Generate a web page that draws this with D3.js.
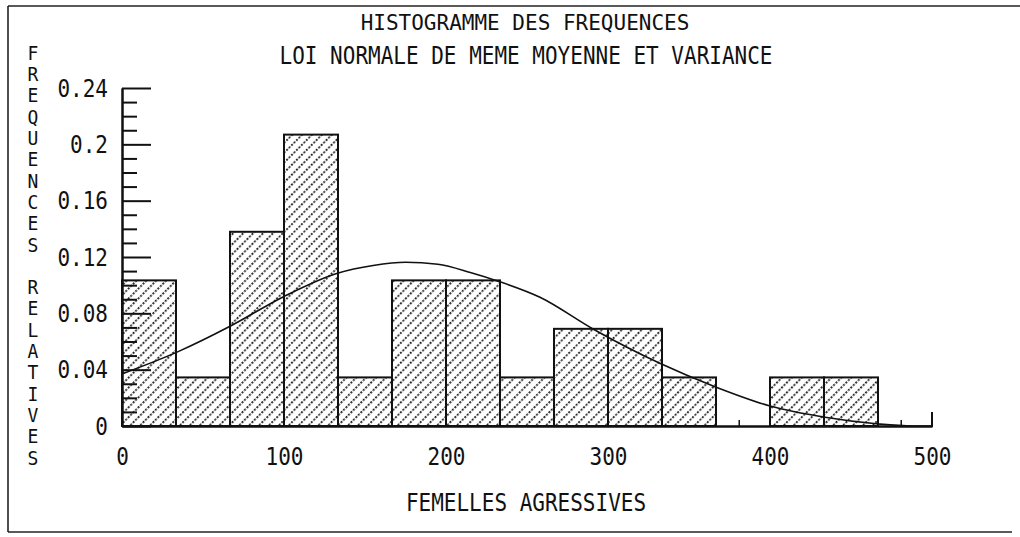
<!DOCTYPE html>
<html><head><meta charset="utf-8">
<script src="https://cdn.jsdelivr.net/npm/d3@7"></script>
<style>
body{margin:0;background:#fff}
svg{display:block}
text{font-family:"DejaVu Sans Mono",monospace;fill:#111}
</style>
</head><body>
<script>
// Histogram bins (class edges) and relative frequencies
const binEdges = [0, 33.33, 66.67, 100, 133.33, 166.67, 200, 233.33, 266.67, 300, 333.33, 366.67, 400, 433.33, 466.67];
const freqs = [0.1034, 0.0345, 0.1379, 0.2069, 0.0345, 0.1034, 0.1034, 0.0345, 0.069, 0.069, 0.0345, 0, 0.0345, 0.0345];

// Normal curve with the same mean and variance (sampled points)
const curveX = [0, 35, 67, 100, 133, 155, 175, 195, 215, 233, 258, 291, 332, 366, 400, 434, 467, 488, 500];
const curveY = [0.037, 0.053, 0.071, 0.092, 0.1085, 0.114, 0.1163, 0.1148, 0.109, 0.1025, 0.0914, 0.0687, 0.0445, 0.0279, 0.0142, 0.0062, 0.0014, 0, 0];

// Axis ticks
const yMajorTicks = [0, 0.04, 0.08, 0.12, 0.16, 0.2, 0.24];
const yMinorTicks = [0.01, 0.02, 0.03, 0.05, 0.06, 0.07, 0.09, 0.10, 0.11, 0.13, 0.14, 0.15, 0.17, 0.18, 0.19, 0.21, 0.22, 0.23];
const xTicks = [0, 100, 200, 300, 400, 500];
const xMinorTicks = [81, 181, 281, 381, 481];

// Texts
const titleLines = ["HISTOGRAMME DES FREQUENCES", "LOI NORMALE DE MEME MOYENNE ET VARIANCE"];
const xTitle = "FEMELLES AGRESSIVES";
const yTitle = "FREQUENCES RELATIVES";

const W = 1020, H = 537;
const svg = d3.select("body").append("svg").attr("width", W).attr("height", H);

const x = d3.scaleLinear().domain([0, 500]).range([122, 932]);
const y = d3.scaleLinear().domain([0, 0.24]).range([426, 88]);

// hatch pattern: dotted diagonal lines
const defs = svg.append("defs");
const pat = defs.append("pattern").attr("id", "hatch")
  .attr("patternUnits", "userSpaceOnUse").attr("width", 7).attr("height", 7)
  .attr("patternTransform", "rotate(45)");
pat.append("rect").attr("width", 7).attr("height", 7).attr("fill", "#fff");
pat.append("line").attr("x1", 0.9).attr("y1", 0).attr("x2", 0.9).attr("y2", 7)
  .attr("stroke", "#111").attr("stroke-width", 1.7).attr("stroke-dasharray", "2 1.5");

// frame
const frame = svg.append("g").attr("stroke", "#222").attr("stroke-width", 1.6).attr("fill", "none");
frame.append("line").attr("x1", 8).attr("y1", 6).attr("x2", W).attr("y2", 6);
frame.append("line").attr("x1", 8).attr("y1", 6).attr("x2", 8).attr("y2", 532);
frame.append("line").attr("x1", 8).attr("y1", 532).attr("x2", 1012).attr("y2", 532);

// text helper: vertically stretched glyphs centred on (cx, cy)
function tallText(g, cx, cy, str, size, sy, anchor) {
  return g.append("text")
    .attr("transform", `translate(${cx},${cy}) scale(1,${sy})`)
    .attr("text-anchor", anchor || "middle")
    .attr("dy", "0.36em")
    .style("font-size", size + "px")
    .text(str);
}

// titles
tallText(svg, 525, 22, titleLines[0], 21, 1.0);
tallText(svg, 526, 55, titleLines[1], 21, 1.2);

// y title, stacked upright letters
const yt = svg.append("g");
yTitle.split("").forEach((c, i) => {
  if (c !== " ") tallText(yt, 33, 53 + i * 21.3, c, 18, 1.05);
});

// x title
tallText(svg, 526, 502, xTitle, 21, 1.2);

// x minor ticks (mostly hidden under bars)
svg.append("g").selectAll("line").data(xMinorTicks).join("line")
  .attr("x1", d => x(d)).attr("x2", d => x(d))
  .attr("y1", y(0)).attr("y2", y(0) - 6)
  .attr("stroke", "#111").attr("stroke-width", 1.5);

// bars
const bins = freqs.map((f, i) => ({ x0: binEdges[i], x1: binEdges[i + 1] !== undefined ? binEdges[i + 1] : binEdges[i] + 33.33, f }));
svg.append("g").selectAll("rect").data(bins.filter(b => b.f > 0)).join("rect")
  .attr("x", d => x(d.x0)).attr("width", d => x(d.x1) - x(d.x0))
  .attr("y", d => y(d.f)).attr("height", d => y(0) - y(d.f))
  .attr("fill", "url(#hatch)").attr("stroke", "#111").attr("stroke-width", 2);

// normal curve
const line = d3.line().x((d, i) => x(curveX[i])).y(d => y(d)).curve(d3.curveMonotoneX);
svg.append("path").datum(curveY).attr("d", line)
  .attr("fill", "none").attr("stroke", "#111").attr("stroke-width", 1.6);

// y axis
const yMinor = d3.axisLeft(y).tickValues(yMinorTicks).tickSize(-15).tickSizeOuter(0).tickFormat("");
const yMajor = d3.axisLeft(y).tickValues(yMajorTicks).tickSize(-29).tickSizeOuter(0)
  .tickFormat(d => d === 0 ? "0" : String(+d.toFixed(2)));
const gyMinor = svg.append("g").attr("transform", `translate(${x(0)},0)`).call(yMinor);
const gy = svg.append("g").attr("transform", `translate(${x(0)},0)`).call(yMajor);
[gyMinor, gy].forEach(g => {
  g.select(".domain").attr("stroke", "#111").attr("stroke-width", 2);
  g.selectAll(".tick line").attr("stroke", "#111").attr("stroke-width", 2);
});
gy.selectAll(".tick text")
  .attr("x", null).attr("dy", "0.36em")
  .attr("transform", "translate(-14,-1) scale(1,1.2)")
  .style("font-size", "21px").style("font-family", "DejaVu Sans Mono").attr("fill", "#111");

// x axis
const xAxis = d3.axisBottom(x).tickValues(xTicks).tickSize(0).tickSizeOuter(0).tickFormat(d3.format("d"));
const gx = svg.append("g").attr("transform", `translate(0,${y(0)})`).call(xAxis);
gx.select(".domain").attr("stroke", "#111").attr("stroke-width", 2.5);
gx.selectAll(".tick text")
  .attr("y", null).attr("dy", "0.36em")
  .attr("transform", "translate(0,30) scale(1,1.2)")
  .style("font-size", "21px").style("font-family", "DejaVu Sans Mono").attr("fill", "#111");
// end tick at 500
svg.append("line").attr("x1", x(500)).attr("x2", x(500)).attr("y1", y(0) + 1).attr("y2", y(0) - 14)
  .attr("stroke", "#111").attr("stroke-width", 2);
</script>
</body></html>
